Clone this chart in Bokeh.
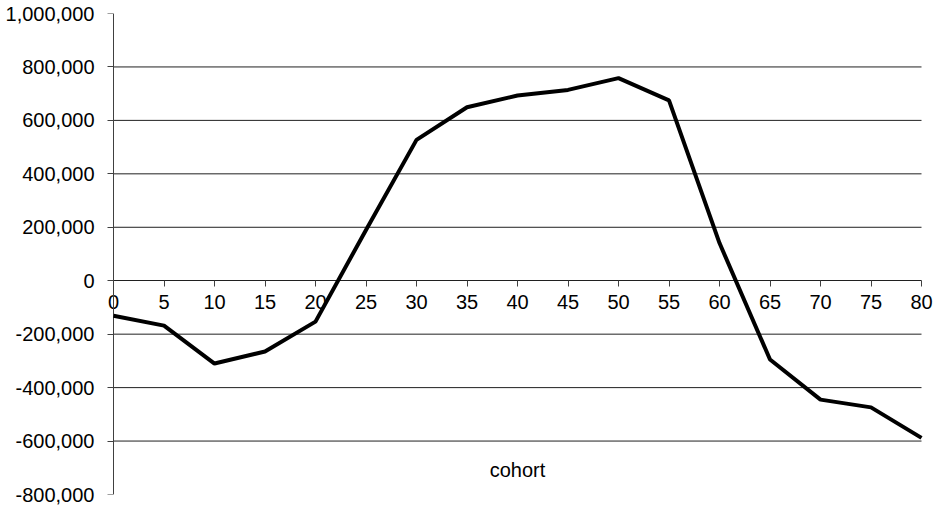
from bokeh.plotting import figure
from bokeh.models import Range1d, FixedTicker, NumeralTickFormatter, Label, LinearAxis
from bokeh.embed import file_html
from bokeh.resources import INLINE

cohort = [0, 5, 10, 15, 20, 25, 30, 35, 40, 45, 50, 55, 60, 65, 70, 75, 80]
values = [-131000, -168000, -310000, -265000, -153000, 190000, 527000, 649000,
          693000, 714000, 758000, 675000, 141000, -295000, -445000, -474000, -588000]
y_ticks = [-800000, -600000, -400000, -200000, 0, 200000, 400000, 600000, 800000, 1000000]
grid_ticks = [-600000, -400000, -200000, 200000, 400000, 600000, 800000]
x_ticks = cohort
x_title = "cohort"

FONT = "Liberation Sans"

# layout (pixels): frame spans a little beyond the 0..80 axis so tick labels are not clipped
PX_PER_UNIT = 808 / 80.0
PAD_LEFT_PX, PAD_RIGHT_PX = 13, 12
x_start = x_ticks[0] - PAD_LEFT_PX / PX_PER_UNIT
x_end = x_ticks[-1] + PAD_RIGHT_PX / PX_PER_UNIT

p = figure(width=933, height=506, output_backend="svg", toolbar_location=None,
           x_range=Range1d(x_start, x_end), y_range=Range1d(y_ticks[0], y_ticks[-1]),
           min_border_left=100, min_border_right=0, min_border_top=13, min_border_bottom=12)
p.outline_line_color = None
p.background_fill_color = "white"
p.xgrid.visible = False
p.ygrid.visible = False

# horizontal gridlines spanning the axis extent only
n = len(grid_ticks)
p.segment(x0=[x_ticks[0]] * n, x1=[x_ticks[-1]] * n, y0=grid_ticks, y1=grid_ticks,
          line_color="#202020", line_width=1)

# left axis: labels only
ya = p.yaxis[0]
ya.ticker = FixedTicker(ticks=y_ticks)
ya.formatter = NumeralTickFormatter(format="0,0")
ya.axis_line_color = None
ya.major_tick_line_color = None
ya.minor_tick_line_color = None
ya.major_tick_out = 0
ya.major_tick_in = 0
ya.major_label_standoff = 6
ya.major_label_text_font = FONT
ya.major_label_text_font_size = "20px"
ya.major_label_text_color = "black"

# vertical axis line + ticks at x = 0
ya2 = LinearAxis(fixed_location=x_ticks[0], ticker=FixedTicker(ticks=y_ticks),
                 bounds=(y_ticks[0], y_ticks[-1]))
ya2.major_tick_out = 6
ya2.major_tick_in = 0
ya2.minor_tick_line_color = None
ya2.axis_line_color = "#404040"
ya2.major_tick_line_color = "#404040"
ya2.major_label_text_font_size = "0px"
ya2.major_label_text_color = None
p.add_layout(ya2, "left")

# x axis crossing at zero
xa = p.xaxis[0]
xa.fixed_location = 0
xa.bounds = (x_ticks[0], x_ticks[-1])
xa.ticker = FixedTicker(ticks=x_ticks)
xa.major_tick_out = 6
xa.major_tick_in = 0
xa.minor_tick_line_color = None
xa.major_label_standoff = 8
xa.axis_line_color = "#202020"
xa.major_tick_line_color = "#404040"
xa.major_label_text_font = FONT
xa.major_label_text_font_size = "20px"
xa.major_label_text_color = "black"

# data line drawn above the axis labels, as in the reference
p.line(cohort, values, line_color="black", line_width=4, level="overlay")

p.add_layout(Label(x=40, y=-710000, text=x_title, text_align="center", text_baseline="middle",
                   text_font=FONT, text_font_size="20px", text_color="black"))

open("out.html", "w").write(file_html(p, INLINE))
